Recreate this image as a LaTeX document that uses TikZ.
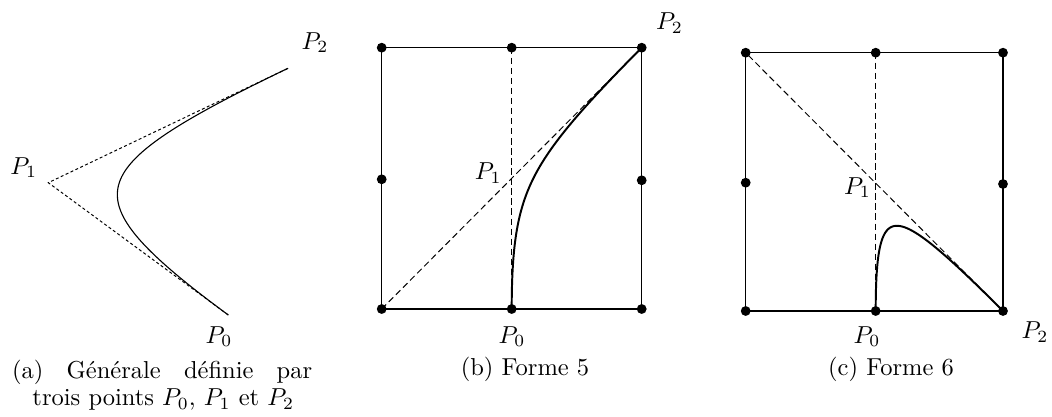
\documentclass[tikz,border=0pt]{standalone}
\usetikzlibrary{calc}
\tikzset{
  dotnode/.style={circle, fill=black, draw=none, inner sep=0pt, minimum size=4pt},
  framestyle/.style={line width=0.5pt},
  guide/.style={dash pattern=on 2.6pt off 1.5pt, line width=0.4pt},
  fineguide/.style={dash pattern=on 1.2pt off 1pt, line width=0.4pt},
  thincurve/.style={line width=0.45pt},
  thickcurve/.style={line width=0.8pt},
  lbl/.style={inner sep=0pt},
}
% rational quadratic Bezier (weight 2 on the middle point)
\newcommand\myconic[6]{plot[domain=0:1, samples=120, variable=\t, smooth]
  ({((1-\t)^2*#1 + 4*\t*(1-\t)*#3 + \t^2*#5)/((1-\t)^2 + 4*\t*(1-\t) + \t^2)},
   {((1-\t)^2*#2 + 4*\t*(1-\t)*#4 + \t^2*#6)/((1-\t)^2 + 4*\t*(1-\t) + \t^2)})}
\begin{document}
\begin{tikzpicture}[x=0.408pt, y=-0.408pt]
\useasboundingbox (0,0) rectangle (1052,417);

% ---------------- panel (a)
\coordinate (a0) at (228.3,315);
\coordinate (a1) at (48.3,182.7);
\coordinate (a2) at (289.3,67.7);
\draw[fineguide] (a0) -- (a1) -- (a2);
\draw[thincurve] \myconic{228.3}{315}{48.3}{182.7}{289.3}{67.7};
\node[lbl] (la2) at (315,42.5) {$P_2$};
\node[lbl] (la1) at (23.7,167.5) {$P_1$};
\node[lbl] (la0) at (219,336.7) {$P_0$};

% ---------------- panel (b)
\node[dotnode] (bTL) at (381.7,47.7) {};
\node[dotnode] (bTM) at (511.7,47.7) {};
\node[dotnode] (bTR) at (641.7,47.7) {};
\node[dotnode] (bML) at (381.7,179.3) {};
\node[dotnode] (bMR) at (641.7,180.3) {};
\node[dotnode] (bBL) at (381.7,309) {};
\node[dotnode] (bBM) at (511.7,309) {};
\node[dotnode] (bBR) at (641.7,309) {};
\draw[framestyle] (bBL.center) -- (bBR.center) -- (bTR.center) -- (bTL.center) -- cycle;
\draw[guide] (bTM.center) -- (bBM.center);
\draw[guide] (bBL.center) -- (bTR.center);
\draw[thickcurve] \myconic{511.7}{309}{511.7}{178.35}{641.7}{47.7};
\node[lbl] (lb1) at (488.3,173) {$P_1$};
\node[lbl] (lb2) at (669.5,23) {$P_2$};
\node[lbl] (lb0) at (512,336.5) {$P_0$};

% ---------------- panel (c)
\node[dotnode] (cTL) at (745.7,52.7) {};
\node[dotnode] (cTM) at (875.7,52.7) {};
\node[dotnode] (cTR) at (1003,52.7) {};
\node[dotnode] (cML) at (745.7,182.7) {};
\node[dotnode] (cMR) at (1003,184) {};
\node[dotnode] (cBL) at (745.7,311) {};
\node[dotnode] (cBM) at (875.7,311) {};
\node[dotnode] (cBR) at (1003,311) {};
\draw[framestyle] (cBL.center) -- (cBR.center) -- (cTR.center) -- (cTL.center) -- cycle;
\draw[guide] (cTM.center) -- (cBM.center);
\draw[guide, dash phase=2.6pt] (cTL.center) -- (cBR.center);
\draw[thickcurve] \myconic{875.7}{311}{875.7}{183.2}{1003}{311};
\node[lbl] (lc1) at (857.5,187.5) {$P_1$};
\node[lbl] (lc0) at (867,336.5) {$P_0$};
\node[lbl] (lc2) at (1035,332) {$P_2$};

% ---------------- captions
\node[lbl, anchor=base west] (capa1) at (11.7,379)
  {\hbox to 122.4pt{(a)\hfill Générale\hfill définie\hfill par}};
\node[lbl, anchor=base west] (capa2) at (32,406) {trois points $P_0$, $P_1$ et $P_2$};
\node[lbl, anchor=base] (capb) at (525,376) {(b) Forme 5};
\node[lbl, anchor=base] (capc) at (891,376) {(c) Forme 6};
\end{tikzpicture}
\end{document}
